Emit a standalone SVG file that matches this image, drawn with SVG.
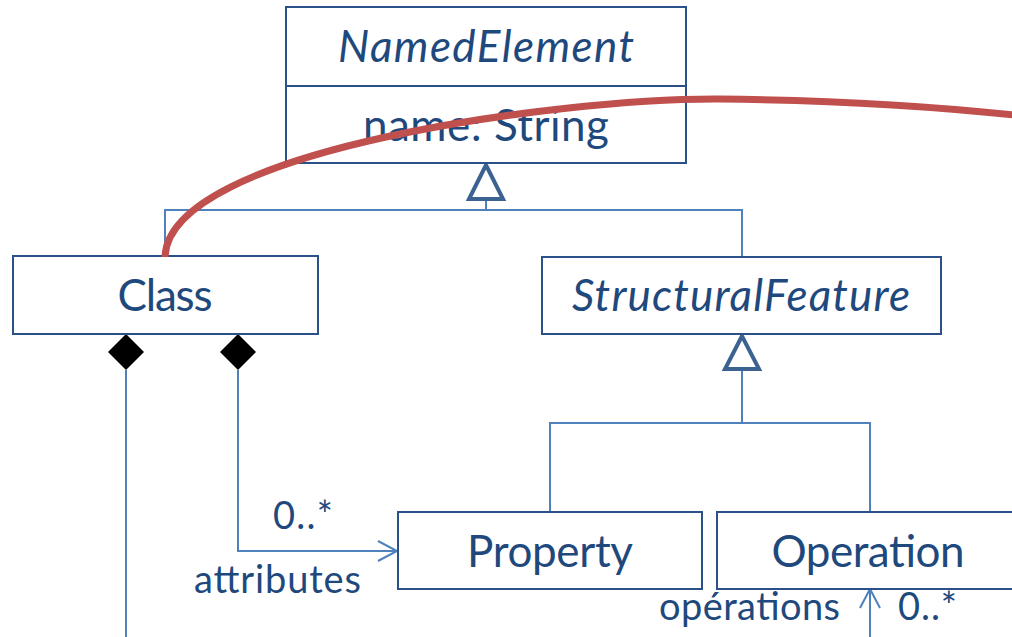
<svg xmlns="http://www.w3.org/2000/svg" width="1012" height="637" viewBox="0 0 1012 637">
  <style>
    .box { fill: #ffffff; stroke: #2c5088; stroke-width: 2; }
    .label { font-family: Lato, "Open Sans", "Liberation Sans", sans-serif; fill: #1f497d; }
    .big { font-size: 44px; }
    .small { font-size: 38px; }
    .abstract { font-style: italic; }
    .mid { text-anchor: middle; }
    .link { fill: none; stroke: #4f81bd; stroke-width: 2; }
    .gen { fill: #ffffff; stroke: #3c6291; stroke-width: 4; stroke-linejoin: miter; }
    .comp { fill: #000000; stroke: none; }
    .strike { fill: none; stroke: #c0504d; stroke-width: 7; stroke-linecap: butt; }
  </style>
  <defs>
    <marker id="open-arrow" markerUnits="userSpaceOnUse" markerWidth="26" markerHeight="26" refX="20" refY="12" orient="auto" overflow="visible">
      <path d="M1,2 L20,12 L1,22" fill="none" stroke="#4f81bd" stroke-width="2"/>
    </marker>
  </defs>

  <rect width="1012" height="637" fill="#ffffff"/>

  <!-- connectors -->
  <g id="connectors">
    <!-- generalization: Class, StructuralFeature -> NamedElement -->
    <path class="link" d="M486,200 V210 M165,256 V210 H742 V257"/>
    <polygon class="gen" points="486,165 469,199 503,199"/>
    <!-- generalization: Property, Operation -> StructuralFeature -->
    <path class="link" d="M742,370 V423 M550,512 V423 H870 V512"/>
    <polygon class="gen" points="742,336 725,369 759,369"/>
    <!-- composition: Class -> Property (attributes) -->
    <path class="link" d="M238,370 V551 H397" marker-end="url(#open-arrow)"/>
    <polygon class="comp" points="238,334 256,352 238,370 220,352"/>
    <!-- composition: Class -> Operation (opérations) -->
    <path class="link" d="M126,370 V639 H870 V589" marker-end="url(#open-arrow)"/>
    <polygon class="comp" points="126,334 144,352 126,370 108,352"/>
    <text class="label small" x="273" y="529" textLength="60" lengthAdjust="spacing">0..*</text>
    <text class="label small" x="194" y="593" textLength="167" lengthAdjust="spacing">attributes</text>
    <text class="label small" x="659" y="620" textLength="181" lengthAdjust="spacing">opérations</text>
    <text class="label small" x="898" y="620" textLength="59" lengthAdjust="spacing">0..*</text>
  </g>

  <g id="node-namedelement">
    <rect class="box" x="286" y="7" width="400" height="79"/>
    <rect class="box" x="286" y="86" width="400" height="77"/>
    <text class="label big abstract mid" x="486" y="62" textLength="296" lengthAdjust="spacing">NamedElement</text>
    <text class="label big mid" x="486" y="141" textLength="246" lengthAdjust="spacing">name: String</text>
  </g>

  <g id="node-class">
    <rect class="box" x="13" y="256" width="305" height="78"/>
    <text class="label big mid" x="165" y="311" textLength="95" lengthAdjust="spacing">Class</text>
  </g>

  <g id="node-structuralfeature">
    <rect class="box" x="542" y="257" width="399" height="77"/>
    <text class="label big abstract mid" x="741" y="311" textLength="338" lengthAdjust="spacing">StructuralFeature</text>
  </g>

  <g id="node-property">
    <rect class="box" x="398" y="512" width="304" height="77"/>
    <text class="label big mid" x="550" y="567" textLength="166" lengthAdjust="spacing">Property</text>
  </g>

  <g id="node-operation">
    <rect class="box" x="717" y="512" width="305" height="77"/>
    <text class="label big mid" x="868" y="567" textLength="193" lengthAdjust="spacing">Operation</text>
  </g>

  <!-- hand-drawn red stroke over the diagram -->
  <g id="strike-through">
    <path class="strike" d="M165,257 C168,150 560,98 720,99 C820,100 940,106 1040,118"/>
  </g>
</svg>
